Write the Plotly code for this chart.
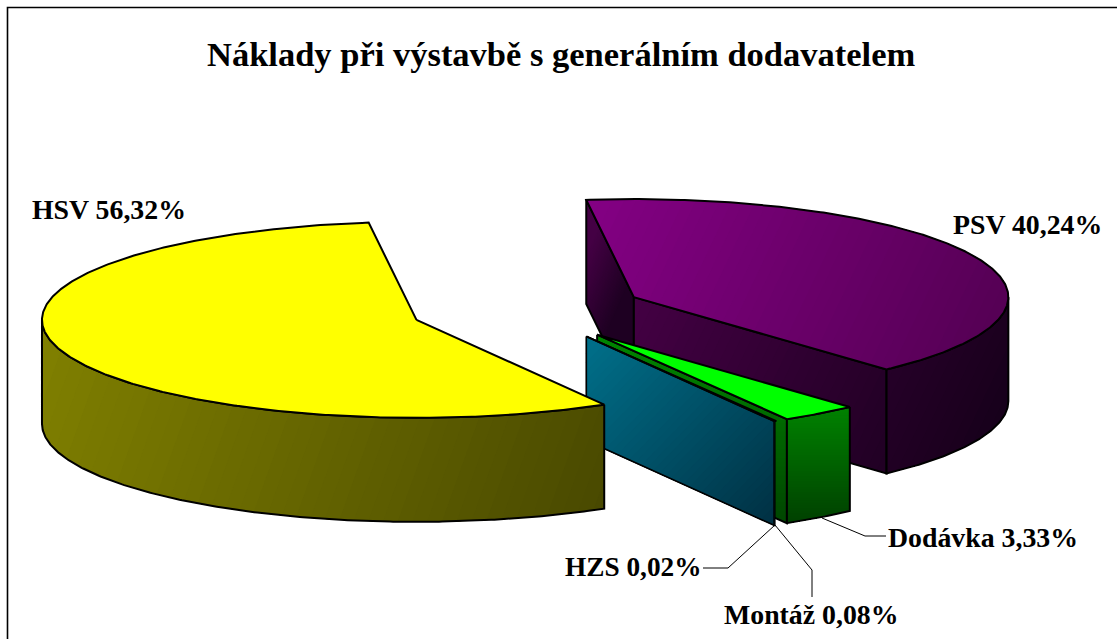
import numpy as np
import plotly.graph_objects as go

# ---- data ----
categories = ["PSV", "Dodávka", "Montáž", "HZS", "HSV"]
shares = [40.24, 3.33, 0.08, 0.02, 56.32]
labels = ["PSV 40,24%", "Dodávka 3,33%", "Montáž 0,08%", "HZS 0,02%", "HSV 56,32%"]
title = "Náklady při výstavbě s generálním dodavatelem"

# ---- pie geometry (pixels in the 1117x639 page) ----
CX, CY = 527.5, 310.0
RA, RB = 374.5, 98.0
EXPLODE = 0.313
DEPTH = 104.0
START = -7.3
BANDS = 44

top_colors = ["#800080", "#00ff00", "#00a000", "#00ccff", "#ffff00"]
# (from point, to point, colour, colour)
styles = {
    "PSV": dict(top=((588, 201), (1009, 400), "#830083", "#50004f"),
                rim=((634, 300), (1000, 474), "#430043", "#140018"),
                s=((588, 250), (634, 270), "#440044", "#1e0022"),
                e=((634, 300), (1000, 474), "#430043", "#140018")),
    "Dodávka": dict(top=None,
                    rim=((0, 410), (0, 524), "#008000", "#003f00"),
                    s=None,
                    e=((0, 335), (0, 524), "#008500", "#004500")),
    "Montáž": dict(top=None,
                   rim=((0, 410), (0, 524), "#008000", "#003f00"),
                   s=None,
                   e=((585, 337), (775, 523), "#00708a", "#002f42")),
    "HZS": dict(top=None,
                rim=((0, 410), (0, 524), "#006680", "#003040"),
                s=None,
                e=((585, 337), (775, 523), "#00708a", "#002f42")),
    "HSV": dict(top=None,
                rim=((42, 321), (604, 522), "#808000", "#484800"),
                s=None, e=None),
}
fig = go.Figure()


def hex_rgb(c):
    return np.array([int(c[i:i + 2], 16) for i in (1, 3, 5)], float)


def add_poly(pts, color):
    fig.add_trace(go.Scatter(x=pts[:, 0], y=pts[:, 1], mode="lines", fill="toself",
                             fillcolor=color, line=dict(width=0, color=color),
                             hoverinfo="skip", showlegend=False))


def add_line(pts, width=2.0):
    fig.add_trace(go.Scatter(x=pts[:, 0], y=pts[:, 1], mode="lines",
                             line=dict(color="black", width=width),
                             hoverinfo="skip", showlegend=False))


def clip(pts, p0, d, level):
    """Keep the part of a polygon where (p-p0).d >= level (half-plane clip)."""
    s = (pts - p0) @ d - level
    out = []
    n = len(pts)
    for i in range(n):
        j = (i + 1) % n
        if s[i] >= 0:
            out.append(pts[i])
        if (s[i] >= 0) != (s[j] >= 0):
            out.append(pts[i] + (pts[j] - pts[i]) * s[i] / (s[i] - s[j]))
    return np.array(out) if len(out) >= 3 else None


def gradient_face(pts, grad):
    a, b, c0, c1 = grad
    a, b = np.array(a, float), np.array(b, float)
    if a[0] == b[0] == 0:
        a[0] = b[0] = pts[:, 0].mean()
    d = b - a
    d = d / (d @ d)
    c0, c1 = hex_rgb(c0), hex_rgb(c1)
    for k in range(BANDS):
        f = k / (BANDS - 1)
        part = pts if k == 0 else clip(pts, a, d, f)
        if part is None:
            break
        c = c0 + (c1 - c0) * f
        add_poly(part, "rgb(%d,%d,%d)" % tuple(c.round()))


def on_ellipse(c, t):
    r = np.radians(t)
    return np.column_stack([c[0] + RA * np.sin(r), c[1] - RB * np.cos(r)])


def slice_faces(name, share, t1, t2, top):
    mid = np.radians((t1 + t2) / 2)
    c = np.array([CX + EXPLODE * RA * np.sin(mid), CY - EXPLODE * RB * np.cos(mid)])
    st = styles[name]
    down = np.array([0, DEPTH])
    thin = (t2 - t1) < 1.0
    # cut faces
    for key, t, vis in (("s", t1, np.sin(np.radians(t1)) < 0), ("e", t2, np.sin(np.radians(t2)) > 0)):
        if vis and st[key] is not None:
            p = on_ellipse(c, np.array([t]))[0]
            q = np.array([c, p, p + down, c + down])
            gradient_face(q, st[key])
            add_line(np.vstack([q, q[:1]]), 1.6 if thin else 2.0)
    # outer rim (front half only)
    lo, hi = max(t1, 90.0), min(t2, 270.0)
    if hi > lo and not thin:
        ts = np.linspace(lo, hi, max(4, int((hi - lo) * 2)))
        arc = on_ellipse(c, ts)
        rim = np.vstack([arc, arc[::-1] + down])
        gradient_face(rim, st["rim"])
        add_line(np.vstack([rim, rim[:1]]))
    # top
    ts = np.linspace(t1, t2, max(3, int((t2 - t1) * 2)))
    surf = np.vstack([[c], on_ellipse(c, ts), [c]])
    if st["top"] is not None:
        gradient_face(surf, st["top"])
    else:
        add_poly(surf, top)
    add_line(surf, 1.6 if thin else 2.0)


# ---- draw slices, back to front, clockwise from START ----
cum = START
for name, share, col in zip(categories, shares, top_colors):
    span = share * 3.6
    slice_faces(name, share, cum, cum + span, col)
    cum += span

# ---- leader lines ----
leaders_x = [[822, 865, 886], [775, 728, 703], [775, 812, 812]]
leaders_y = [[518, 536, 536], [525, 568, 568], [525, 570, 597]]
for lx, ly in zip(leaders_x, leaders_y):
    fig.add_trace(go.Scatter(x=lx, y=ly, mode="lines", line=dict(color="black", width=1),
                             hoverinfo="skip", showlegend=False))

# ---- text ----
FONT = "Liberation Serif"
label_pos = {"HSV 56,32%": (30, 209), "PSV 40,24%": (951, 224), "Dodávka 3,33%": (886, 537),
             "HZS 0,02%": (563, 567), "Montáž 0,08%": (722, 614)}
label_size = {"HZS 0,02%": 27.3}
for text in labels:
    x, y = label_pos[text]
    fig.add_annotation(x=x, y=y, text="<b>%s</b>" % text, showarrow=False, xanchor="left",
                       yanchor="middle", font=dict(family=FONT, size=label_size.get(text, 27.8), color="black"))
fig.add_annotation(x=561, y=54, text="<b>%s</b>" % title, showarrow=False, xanchor="center",
                   yanchor="middle", font=dict(family=FONT, size=34.5, color="black"))

# ---- frame (its right and bottom edges lie outside the page) ----
fig.add_shape(type="rect", x0=7.5, y0=7.5, x1=1130, y1=660, line=dict(color="black", width=1.6))

fig.update_layout(width=1117, height=639, margin=dict(l=0, r=0, t=0, b=0),
                  paper_bgcolor="white", plot_bgcolor="white", showlegend=False,
                  xaxis=dict(range=[0, 1117], visible=False, fixedrange=True),
                  yaxis=dict(range=[639, 0], visible=False, fixedrange=True))
fig.write_html("out.html", config={"displayModeBar": False},
               post_script="document.body.style.margin='0';document.body.style.overflow='hidden';")
